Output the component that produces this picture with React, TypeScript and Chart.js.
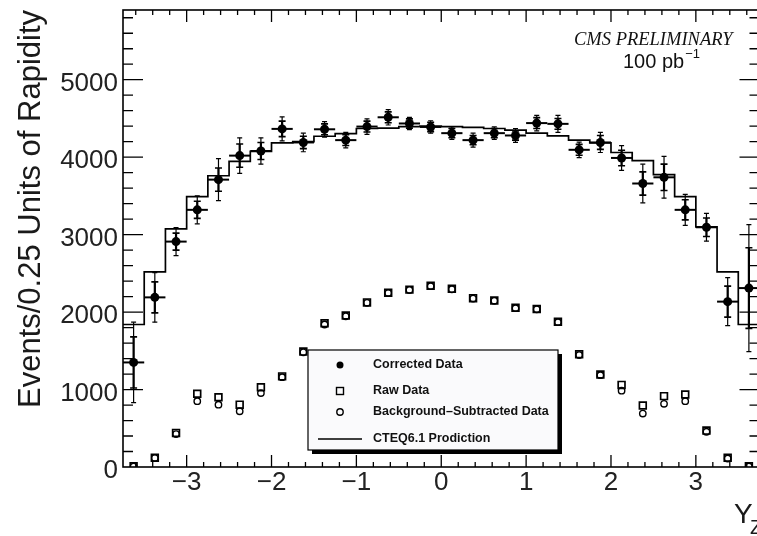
import { useEffect, useRef } from 'react';
import { Chart, registerables } from 'chart.js';

Chart.register(...registerables);

// Z boson rapidity, bins of 0.25 units
const binCenters = [
  -3.625, -3.375, -3.125, -2.875, -2.625, -2.375, -2.125, -1.875, -1.625, -1.375,
  -1.125, -0.875, -0.625, -0.375, -0.125, 0.125, 0.375, 0.625, 0.875, 1.125,
  1.375, 1.625, 1.875, 2.125, 2.375, 2.625, 2.875, 3.125, 3.375, 3.625,
];
const binEdges = [
  -3.75, -3.5, -3.25, -3.0, -2.75, -2.5, -2.25, -2.0, -1.75, -1.5, -1.25,
  -1.0, -0.75, -0.5, -0.25, 0.0, 0.25, 0.5, 0.75, 1.0, 1.25,
  1.5, 1.75, 2.0, 2.25, 2.5, 2.75, 3.0, 3.25, 3.5, 3.75,
];
const binHalfWidth = 0.125;

const correctedData = [
  1350, 2190, 2910, 3320, 3710, 4020, 4080, 4365, 4190, 4360,
  4220, 4395, 4515, 4435, 4390, 4310, 4220, 4310, 4280, 4440,
  4430, 4095, 4190, 3990, 3660, 3740, 3320, 3095, 2135, 2310,
];
const correctedStatErr = [
  330, 200, 110, 110, 150, 150, 110, 100, 80, 70,
  70, 70, 70, 60, 60, 60, 60, 60, 60, 70,
  70, 70, 90, 100, 150, 170, 130, 120, 200, 520,
];
const correctedTotalErr = [
  520, 320, 180, 180, 270, 230, 170, 155, 120, 100,
  100, 100, 100, 80, 80, 80, 90, 80, 90, 100,
  110, 100, 130, 160, 250, 270, 200, 180, 310, 820,
];
const rawData = [
  10, 120, 440, 945, 900, 805, 1030, 1170, 1490, 1855,
  1955, 2125, 2250, 2290, 2340, 2300, 2180, 2150, 2055, 2040,
  1875, 1455, 1195, 1060, 795, 915, 935, 470, 120, 10,
];
const bgSubtractedData = [
  5, 115, 425, 850, 805, 720, 955, 1160, 1480, 1840,
  1945, 2120, 2245, 2285, 2335, 2295, 2175, 2145, 2050, 2035,
  1870, 1445, 1185, 985, 690, 815, 850, 455, 110, 5,
];
const cteqPrediction = [
  1840, 2520, 3075, 3490, 3760, 3945, 4075, 4185, 4200, 4270,
  4305, 4370, 4375, 4395, 4400, 4395, 4385, 4370, 4350, 4310,
  4275, 4220, 4185, 4060, 3955, 3775, 3490, 3100, 2520, 1840,
];

const xTickValues = [-3, -2, -1, 0, 1, 2, 3];
const yTickValues = [0, 1000, 2000, 3000, 4000, 5000];

const legendLabels = [
  'Corrected Data',
  'Raw Data',
  'Background\u2013Subtracted Data',
  'CTEQ6.1 Prodiction',
];

const SANS = '"Liberation Sans", Arial, Helvetica, sans-serif';
const SERIF = '"Liberation Serif", "Times New Roman", Times, serif';

const fmtTick = (v: number) => (v < 0 ? '\u2212' + Math.abs(v) : String(v));

export default function App() {
  const ref = useRef<HTMLCanvasElement>(null);

  useEffect(() => {
    const canvas = ref.current!;

    const decorations = {
      id: 'rootStyleDecorations',
      afterDatasetsDraw(chart: any) {
        const { ctx } = chart;
        const xs = chart.scales.x;
        const ys = chart.scales.y;
        ctx.save();
        ctx.strokeStyle = '#000';
        binCenters.forEach((c, i) => {
          const px = xs.getPixelForValue(c);
          const py = ys.getPixelForValue(correctedData[i]);
          const xl = xs.getPixelForValue(c - binHalfWidth);
          const xr = xs.getPixelForValue(c + binHalfWidth);
          const yTotLo = ys.getPixelForValue(correctedData[i] - correctedTotalErr[i]);
          const yTotHi = ys.getPixelForValue(correctedData[i] + correctedTotalErr[i]);
          const yStLo = ys.getPixelForValue(correctedData[i] - correctedStatErr[i]);
          const yStHi = ys.getPixelForValue(correctedData[i] + correctedStatErr[i]);
          // horizontal bin-width bar
          ctx.lineWidth = 2;
          ctx.beginPath();
          ctx.moveTo(xl, py);
          ctx.lineTo(xr, py);
          ctx.stroke();
          // total error (thin)
          ctx.lineWidth = 1.2;
          ctx.beginPath();
          ctx.moveTo(px, yTotLo);
          ctx.lineTo(px, yTotHi);
          ctx.stroke();
          // statistical error (thick)
          ctx.lineWidth = 2.2;
          ctx.beginPath();
          ctx.moveTo(px, yStLo);
          ctx.lineTo(px, yStHi);
          ctx.stroke();
          // caps
          ctx.lineWidth = 1.6;
          ctx.beginPath();
          ctx.moveTo(px - 3.5, yStLo);
          ctx.lineTo(px + 3.5, yStLo);
          ctx.moveTo(px - 3.5, yStHi);
          ctx.lineTo(px + 3.5, yStHi);
          ctx.stroke();
          ctx.lineWidth = 1.2;
          ctx.beginPath();
          ctx.moveTo(px - 2.5, yTotLo);
          ctx.lineTo(px + 2.5, yTotLo);
          ctx.moveTo(px - 2.5, yTotHi);
          ctx.lineTo(px + 2.5, yTotHi);
          ctx.stroke();
        });
        ctx.restore();
      },
      afterDraw(chart: any) {
        const { ctx, chartArea: a } = chart;
        const xs = chart.scales.x;
        const ys = chart.scales.y;
        ctx.save();
        ctx.strokeStyle = '#000';

        // frame
        ctx.lineWidth = 1.6;
        ctx.strokeRect(a.left, a.top, a.right - a.left, a.bottom - a.top);

        // x ticks, bottom and top, pointing inward
        ctx.lineWidth = 1.3;
        ctx.beginPath();
        for (let k = -18; k <= 18; k++) {
          const v = k / 5;
          const px = xs.getPixelForValue(v);
          const major = k % 5 === 0;
          const len = major ? 12 : 5;
          ctx.moveTo(px, a.bottom);
          ctx.lineTo(px, a.bottom - len);
          ctx.moveTo(px, a.top);
          ctx.lineTo(px, a.top + len);
        }
        // y ticks, left and right
        for (let k = 1; k <= 29; k++) {
          const v = k * 200;
          const py = ys.getPixelForValue(v);
          const major = k % 5 === 0;
          const len = major ? 20 : 10;
          ctx.moveTo(a.left, py);
          ctx.lineTo(a.left + len, py);
          ctx.moveTo(a.right, py);
          ctx.lineTo(a.right - len, py);
        }
        ctx.stroke();

        // legend box with drop shadow
        const lx = a.left + 185;
        const ly = a.top + 340;
        const lw = 250;
        const lh = 100;
        ctx.fillStyle = '#000';
        ctx.fillRect(lx + 4, ly + 4, lw, lh);
        ctx.fillStyle = '#fafafc';
        ctx.fillRect(lx, ly, lw, lh);
        ctx.lineWidth = 1.2;
        ctx.strokeRect(lx, ly, lw, lh);

        const rowY = [ly + 15, ly + 41, ly + 62, ly + 89];
        const mx = lx + 32;
        // corrected marker
        ctx.fillStyle = '#000';
        ctx.beginPath();
        ctx.arc(mx, rowY[0], 3.5, 0, Math.PI * 2);
        ctx.fill();
        // raw marker
        ctx.lineWidth = 1.4;
        ctx.strokeRect(mx - 3.5, rowY[1] - 3.5, 7, 7);
        // background-subtracted marker
        ctx.beginPath();
        ctx.arc(mx, rowY[2], 3.2, 0, Math.PI * 2);
        ctx.stroke();
        // prediction line
        ctx.lineWidth = 1.3;
        ctx.beginPath();
        ctx.moveTo(lx + 10, rowY[3]);
        ctx.lineTo(lx + 54, rowY[3]);
        ctx.stroke();

        ctx.fillStyle = '#111';
        ctx.font = `bold 12.5px ${SANS}`;
        ctx.textBaseline = 'middle';
        ctx.textAlign = 'left';
        legendLabels.forEach((t, i) => ctx.fillText(t, lx + 65, rowY[i]));

        // annotations
        ctx.fillStyle = '#111';
        ctx.textBaseline = 'alphabetic';
        ctx.textAlign = 'left';
        ctx.font = `italic 18.5px ${SERIF}`;
        ctx.fillText('CMS PRELIMINARY', 574, 45);
        ctx.font = `20px ${SANS}`;
        ctx.fillText('100 pb', 623, 68);
        const w = ctx.measureText('100 pb').width;
        ctx.font = `13px ${SANS}`;
        ctx.fillText('\u22121', 623 + w + 1, 58);

        // axis titles
        ctx.fillStyle = '#1a1a1a';
        ctx.font = `31px ${SANS}`;
        ctx.save();
        ctx.translate(40, 209);
        ctx.rotate(-Math.PI / 2);
        ctx.textAlign = 'center';
        ctx.fillText('Events/0.25 Units of Rapidity', 0, 0);
        ctx.restore();

        ctx.font = `28px ${SANS}`;
        ctx.fillText('Y', 734, 523);
        ctx.font = `20px ${SANS}`;
        ctx.fillText('Z', 750, 534);

        ctx.restore();
      },
    };

    const chart = new Chart(canvas, {
      type: 'scatter',
      data: {
        datasets: [
          {
            type: 'line',
            label: 'CTEQ6.1 Prodiction',
            data: [
              ...cteqPrediction.map((v, i) => ({ x: binEdges[i], y: v })),
              { x: binEdges[binEdges.length - 1], y: cteqPrediction[cteqPrediction.length - 1] },
            ],
            stepped: 'before',
            borderColor: '#000',
            borderWidth: 1.7,
            pointRadius: 0,
            fill: false,
            order: 4,
          } as any,
          {
            label: 'Background-Subtracted Data',
            data: bgSubtractedData.map((v, i) => ({ x: binCenters[i], y: v })),
            pointStyle: 'circle',
            pointRadius: 3.2,
            pointBackgroundColor: 'rgba(0,0,0,0)',
            pointBorderColor: '#000',
            pointBorderWidth: 1.4,
            order: 3,
          },
          {
            label: 'Raw Data',
            data: rawData.map((v, i) => ({ x: binCenters[i], y: v })),
            pointStyle: 'rect',
            pointRadius: 4.8,
            pointBackgroundColor: 'rgba(0,0,0,0)',
            pointBorderColor: '#000',
            pointBorderWidth: 1.7,
            order: 2,
          },
          {
            label: 'Corrected Data',
            data: correctedData.map((v, i) => ({ x: binCenters[i], y: v })),
            pointStyle: 'circle',
            pointRadius: 4.5,
            pointBackgroundColor: '#000',
            pointBorderColor: '#000',
            pointBorderWidth: 0,
            order: 1,
          },
        ],
      },
      options: {
        responsive: false,
        animation: false,
        devicePixelRatio: 1,
        layout: { padding: { top: 10, right: 5, left: 0, bottom: 0 } },
        plugins: {
          legend: { display: false },
          tooltip: { enabled: false },
        },
        scales: {
          x: {
            type: 'linear',
            min: -3.75,
            max: 3.75,
            afterBuildTicks: (s: any) => {
              s.ticks = xTickValues.map((v) => ({ value: v }));
            },
            afterFit: (s: any) => {
              s.height = 69;
              s.paddingLeft = 0;
              s.paddingRight = 0;
            },
            ticks: {
              callback: (v: any) => fmtTick(Number(v)),
              font: { family: SANS, size: 26 },
              color: '#222',
              padding: 0,
              maxRotation: 0,
              autoSkip: false,
            },
            grid: { display: false, drawTicks: false },
            border: { display: false },
          },
          y: {
            type: 'linear',
            min: 0,
            max: 5900,
            afterBuildTicks: (s: any) => {
              s.ticks = yTickValues.map((v) => ({ value: v }));
            },
            afterFit: (s: any) => {
              s.width = 123;
              s.paddingTop = 0;
              s.paddingBottom = 0;
            },
            ticks: {
              // empty first line nudges the label slightly below its tick
              callback: (v: any) => ['', String(v)],
              font: { family: SANS, size: 26, lineHeight: 0.3 },
              color: '#222',
              padding: 5,
              autoSkip: false,
            },
            grid: { display: false, drawTicks: false },
            border: { display: false },
          },
        },
      },
      plugins: [decorations],
    });

    return () => chart.destroy();
  }, []);

  return (
    <div
      style={{
        position: 'fixed',
        left: 0,
        top: 0,
        width: 757,
        height: 536,
        overflow: 'hidden',
        background: '#fff',
      }}
    >
      <canvas ref={ref} width={766} height={536} style={{ display: 'block', width: 766, height: 536 }} />
    </div>
  );
}
